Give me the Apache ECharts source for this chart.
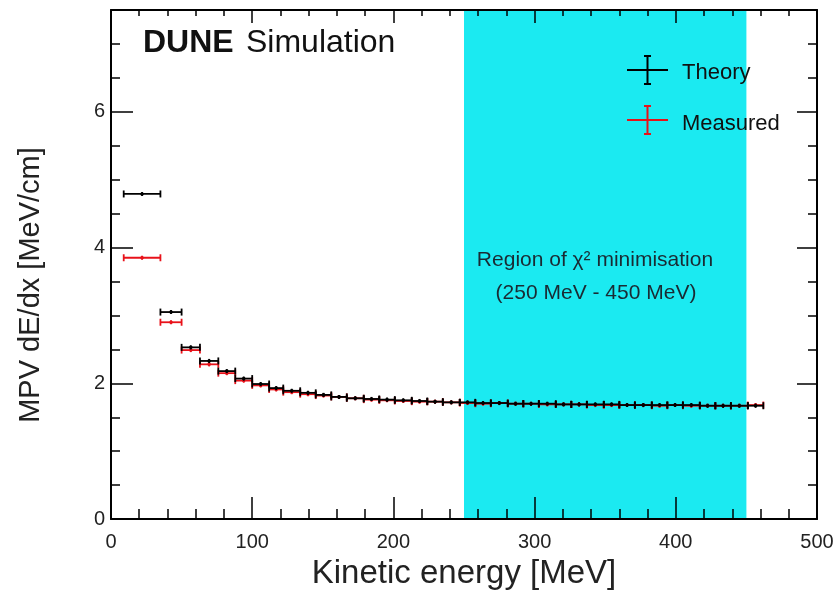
<!DOCTYPE html>
<html>
<head>
<meta charset="utf-8">
<script src="https://cdn.jsdelivr.net/npm/echarts@6/dist/echarts.min.js"></script>
<style>html,body{margin:0;padding:0;background:#fff;}#chart{width:840px;height:595px;}</style>
</head>
<body>
<div id="chart"></div>
<script>
// ---- data ----
var binLo = [9, 35, 50, 63, 76, 88, 100, 112, 122, 134, 145, 156, 167, 179, 190, 201, 213, 224, 235, 247, 258, 269, 281, 292, 303, 315, 326, 337, 349, 360, 371, 383, 394, 405, 417, 428, 439, 451];
var binHi = [35, 50, 63, 76, 88, 100, 112, 122, 134, 145, 156, 167, 179, 190, 201, 213, 224, 235, 247, 258, 269, 281, 292, 303, 315, 326, 337, 349, 360, 371, 383, 394, 405, 417, 428, 439, 451, 462];
var theory = [4.79, 3.05, 2.53, 2.33, 2.18, 2.07, 1.99, 1.93, 1.89, 1.86, 1.83, 1.80, 1.78, 1.77, 1.76, 1.75, 1.74, 1.73, 1.72, 1.72, 1.71, 1.71, 1.70, 1.70, 1.70, 1.69, 1.69, 1.69, 1.69, 1.68, 1.68, 1.68, 1.68, 1.68, 1.67, 1.67, 1.67, 1.67];
var measured = [3.85, 2.90, 2.49, 2.28, 2.15, 2.04, 1.97, 1.91, 1.87, 1.84, 1.82, 1.80, 1.78, 1.76, 1.75, 1.74, 1.73, 1.73, 1.72, 1.71, 1.70, 1.71, 1.70, 1.70, 1.69, 1.69, 1.69, 1.68, 1.68, 1.68, 1.68, 1.67, 1.68, 1.67, 1.67, 1.67, 1.67, 1.68];
var yErr = 0.03;
var regionLo = 250, regionHi = 450;
var xTicks = [0, 100, 200, 300, 400, 500];
var yTicks = [0, 2, 4, 6];

var FONT = 'Liberation Sans, Arial, Helvetica, sans-serif';

function buildData(vals) {
  return vals.map(function (v, i) { return [binLo[i], binHi[i], v, yErr]; });
}

function errRender(color) {
  return function (params, api) {
    var lo = api.value(0), hi = api.value(1), y = api.value(2), e = api.value(3);
    var mid = (lo + hi) / 2;
    var p1 = api.coord([lo, y]), p2 = api.coord([hi, y]);
    var pu = api.coord([mid, y + e]), pd = api.coord([mid, y - e]);
    var st = { stroke: color, lineWidth: 1.8 };
    return {
      type: 'group',
      children: [
        { type: 'line', shape: { x1: p1[0], y1: p1[1], x2: p2[0], y2: p2[1] }, style: st },
        { type: 'line', shape: { x1: p1[0], y1: p1[1] - 3.5, x2: p1[0], y2: p1[1] + 3.5 }, style: st },
        { type: 'line', shape: { x1: p2[0], y1: p2[1] - 3.5, x2: p2[0], y2: p2[1] + 3.5 }, style: st },
        { type: 'line', shape: { x1: pu[0], y1: pu[1], x2: pd[0], y2: pd[1] }, style: st },
        { type: 'circle', shape: { cx: pu[0], cy: (pu[1] + pd[1]) / 2, r: 1.8 }, style: { fill: color } }
      ]
    };
  };
}

function bandRender(params, api) {
  var a = api.coord([api.value(0), 7.5]);
  var b = api.coord([api.value(1), 0]);
  return { type: 'rect', shape: { x: a[0], y: a[1], width: b[0] - a[0], height: b[1] - a[1] }, style: { fill: '#1beaf1' } };
}

var chart = echarts.init(document.getElementById('chart'), null, { renderer: 'canvas' });

var axisLineStyle = { color: '#000', width: 2 };
var xFmt = function (v) { return xTicks.indexOf(v) >= 0 ? String(v) : ''; };
var yFmt = function (v) { return yTicks.indexOf(v) >= 0 ? String(v) : ''; };

var option = {
  backgroundColor: '#fff',
  animation: false,
  grid: { left: 111, right: 23, top: 10, bottom: 73, show: false },
  xAxis: [
    {
      type: 'value', min: 0, max: 500, interval: 100, position: 'bottom',
      axisLine: { show: true, onZero: false, lineStyle: axisLineStyle },
      axisTick: { show: true, inside: true, length: 22, lineStyle: { color: '#000', width: 1.5 } },
      minorTick: { show: true, splitNumber: 5, length: 10, lineStyle: { color: '#000', width: 1.5 } },
      splitLine: { show: false },
      axisLabel: { formatter: xFmt, fontSize: 20, color: '#222', fontFamily: FONT, margin: 13 },
      name: 'Kinetic energy [MeV]', nameLocation: 'middle', nameGap: 37,
      nameTextStyle: { fontSize: 33, color: '#222', fontFamily: FONT }
    },
    {
      type: 'value', min: 0, max: 500, interval: 100, position: 'top',
      axisLine: { show: true, onZero: false, lineStyle: axisLineStyle },
      axisTick: { show: true, inside: true, length: 13, lineStyle: { color: '#000', width: 1.5 } },
      minorTick: { show: true, splitNumber: 5, length: 6, lineStyle: { color: '#000', width: 1.5 } },
      splitLine: { show: false },
      axisLabel: { show: false }
    }
  ],
  yAxis: [
    {
      type: 'value', min: 0, max: 7.5, interval: 2, position: 'left',
      axisLine: { show: true, onZero: false, lineStyle: axisLineStyle },
      axisTick: { show: true, inside: true, length: 22, lineStyle: { color: '#000', width: 1.5 } },
      minorTick: { show: true, splitNumber: 4, length: 9, lineStyle: { color: '#000', width: 1.5 } },
      splitLine: { show: false },
      axisLabel: { formatter: yFmt, fontSize: 20, color: '#222', fontFamily: FONT, margin: 6 }
    },
    {
      type: 'value', min: 0, max: 7.5, interval: 2, position: 'right',
      axisLine: { show: true, onZero: false, lineStyle: axisLineStyle },
      axisTick: { show: true, inside: true, length: 20, lineStyle: { color: '#000', width: 1.5 } },
      minorTick: { show: true, splitNumber: 4, length: 9, lineStyle: { color: '#000', width: 1.5 } },
      splitLine: { show: false },
      axisLabel: { show: false }
    }
  ],
  series: [
    {
      type: 'custom', name: 'band', z: 0, renderItem: bandRender,
      data: [[regionLo, regionHi]], encode: { x: [0, 1] }, silent: true
    },
    {
      type: 'custom', name: 'Measured', z: 3, renderItem: errRender('#e8121a'),
      data: buildData(measured), encode: { x: [0, 1], y: 2 }
    },
    {
      type: 'custom', name: 'Theory', z: 4, renderItem: errRender('#000'),
      data: buildData(theory), encode: { x: [0, 1], y: 2 }
    }
  ],
  graphic: [
    // y-axis title
    {
      type: 'text', z: 10, x: 31, y: 285, rotation: Math.PI / 2,
      style: { text: 'MPV dE/dx [MeV/cm]', fontSize: 29, fill: '#222', fontFamily: FONT, align: 'center', verticalAlign: 'middle' }
    },
    { type: 'text', left: 143, top: 27, z: 10, style: { text: 'DUNE', fontSize: 32, fontWeight: 'bold', fill: '#111', fontFamily: FONT } },
    { type: 'text', left: 246, top: 27, z: 10, style: { text: 'Simulation', fontSize: 32, fill: '#111', fontFamily: FONT } },
    // legend: Theory
    { type: 'line', z: 10, shape: { x1: 627, y1: 70, x2: 668, y2: 70 }, style: { stroke: '#000', lineWidth: 2 } },
    { type: 'line', z: 10, shape: { x1: 647.5, y1: 56, x2: 647.5, y2: 84 }, style: { stroke: '#000', lineWidth: 2 } },
    { type: 'line', z: 10, shape: { x1: 644, y1: 56, x2: 651, y2: 56 }, style: { stroke: '#000', lineWidth: 2 } },
    { type: 'line', z: 10, shape: { x1: 644, y1: 84, x2: 651, y2: 84 }, style: { stroke: '#000', lineWidth: 2 } },
    { type: 'text', z: 10, left: 682, top: 62, style: { text: 'Theory', fontSize: 22, fill: '#111', fontFamily: FONT } },
    // legend: Measured
    { type: 'line', z: 10, shape: { x1: 627, y1: 120, x2: 668, y2: 120 }, style: { stroke: '#e8121a', lineWidth: 2 } },
    { type: 'line', z: 10, shape: { x1: 647.5, y1: 106, x2: 647.5, y2: 134 }, style: { stroke: '#e8121a', lineWidth: 2 } },
    { type: 'line', z: 10, shape: { x1: 644, y1: 106, x2: 651, y2: 106 }, style: { stroke: '#e8121a', lineWidth: 2 } },
    { type: 'line', z: 10, shape: { x1: 644, y1: 134, x2: 651, y2: 134 }, style: { stroke: '#e8121a', lineWidth: 2 } },
    { type: 'text', z: 10, left: 682, top: 113, style: { text: 'Measured', fontSize: 22, fill: '#111', fontFamily: FONT } },
    // region annotation
    { type: 'text', z: 10, x: 595, y: 260, style: { text: 'Region of \u03C7\u00B2 minimisation', fontSize: 21, fill: '#1a2a33', fontFamily: FONT, align: 'center', verticalAlign: 'middle' } },
    { type: 'text', z: 10, x: 596, y: 293, style: { text: '(250 MeV - 450 MeV)', fontSize: 21, fill: '#1a2a33', fontFamily: FONT, align: 'center', verticalAlign: 'middle' } }
  ]
};

chart.setOption(option);
</script>
</body>
</html>
